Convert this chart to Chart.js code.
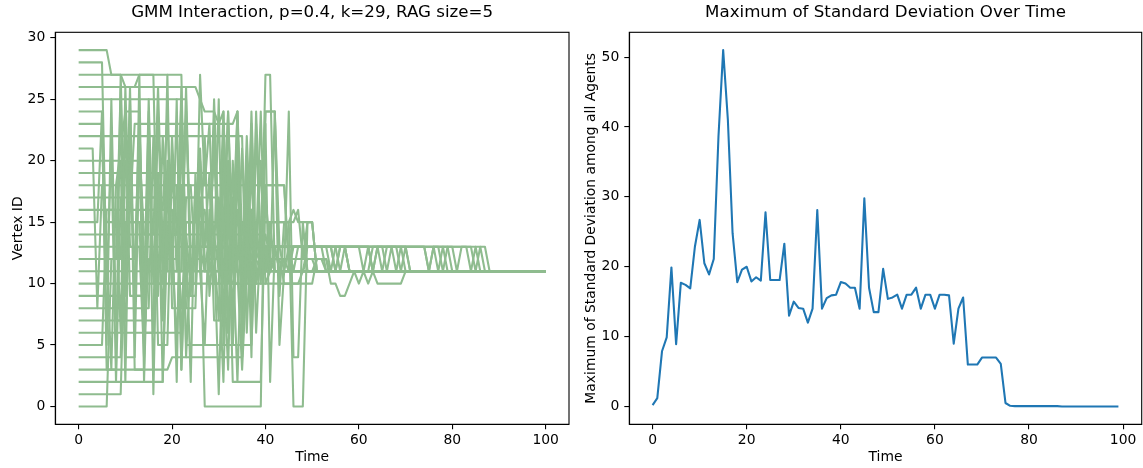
<!DOCTYPE html>
<html>
<head>
<meta charset="utf-8">
<script src="https://cdn.jsdelivr.net/npm/chart.js@4/dist/chart.umd.min.js"></script>
<style>
  html, body { margin: 0; padding: 0; background: #fff; overflow: hidden; }
  #wrap { position: relative; width: 1143px; height: 468px; }
  canvas { position: absolute; top: 0; }
</style>
</head>
<body>
<div id="wrap">
  <canvas id="left" width="575" height="468" style="left:0"></canvas>
  <canvas id="right" width="568" height="468" style="left:575px"></canvas>
</div>
<script>
// Trayectorias de los 30 agentes: pares [tiempo, vértice] donde cambia el valor
const agentPaths = [
  [[0,0],[6,0],[7,12],[9,12],[10,23],[11,9],[14,9],[15,17],[17,17],[18,11],[21,11],[22,15],[26,15],[27,0],[39,0],[40,24],[42,24],[43,13],[44,11],[100,11]],
  [[0,1],[9,1],[10,15],[13,15],[14,5],[15,12],[18,12],[19,19],[20,10],[23,10],[24,13],[28,13],[29,21],[30,11],[33,11],[34,24],[35,14],[37,14],[38,13],[40,13],[41,11],[100,11]],
  [[0,2],[18,2],[19,18],[20,11],[25,11],[26,20],[27,11],[30,11],[31,2],[32,17],[33,2],[39,2],[40,17],[41,13],[45,13],[46,11],[100,11]],
  [[0,3],[19,3],[20,4],[35,4],[36,14],[37,11],[39,11],[40,27],[41,27],[42,11],[44,11],[45,24],[46,4],[47,4],[48,15],[49,11],[100,11]],
  [[0,4],[9,4],[10,20],[13,20],[14,7],[16,7],[17,24],[18,12],[21,12],[22,18],[24,18],[25,11],[30,11],[31,16],[32,6],[33,20],[34,12],[36,12],[37,19],[38,11],[40,11],[41,15],[42,11],[100,11]],
  [[0,5],[5,5],[6,16],[8,16],[9,6],[10,26],[11,13],[13,13],[14,4],[15,19],[17,19],[18,13],[20,13],[21,5],[22,18],[23,5],[37,5],[38,15],[39,10],[40,18],[44,18],[45,11],[50,11],[51,12],[53,12],[54,11],[100,11]],
  [[0,6],[22,6],[23,17],[25,17],[26,12],[28,12],[29,25],[30,14],[32,14],[33,19],[34,11],[35,11],[36,22],[37,13],[38,13],[39,24],[40,11],[41,11],[42,24],[43,9],[44,15],[46,15],[47,16],[48,12],[49,15],[50,15],[51,11],[100,11]],
  [[0,7],[12,7],[13,27],[14,2],[15,16],[18,16],[19,24],[20,10],[24,10],[25,16],[27,16],[28,11],[30,11],[31,19],[32,12],[33,11],[100,11]],
  [[0,8],[15,8],[16,22],[17,5],[19,5],[20,20],[21,11],[22,11],[23,24],[24,13],[30,13],[31,24],[32,10],[34,10],[35,13],[36,13],[37,21],[38,6],[39,14],[40,11],[48,11],[49,13],[54,13],[55,11],[56,13],[57,13],[58,11],[100,11]],
  [[0,9],[10,9],[11,25],[12,3],[14,3],[15,22],[16,10],[18,10],[19,27],[20,8],[22,8],[23,13],[27,13],[28,19],[29,7],[31,7],[32,11],[36,11],[37,16],[38,12],[39,13],[62,13],[63,11],[64,13],[65,11],[66,13],[70,13],[71,11],[100,11]],
  [[0,10],[20,10],[21,25],[22,3],[23,14],[24,10],[30,10],[31,22],[32,11],[33,10],[50,10],[51,12],[53,12],[54,10],[55,10],[56,9],[57,9],[58,10],[59,11],[60,10],[61,11],[62,10],[63,11],[64,10],[69,10],[70,11],[100,11]],
  [[0,11],[100,11]],
  [[0,12],[8,12],[9,26],[10,4],[12,4],[13,21],[14,14],[16,14],[17,26],[18,13],[19,18],[21,18],[22,3],[23,15],[25,15],[26,21],[27,12],[29,12],[30,25],[31,5],[33,5],[34,16],[35,12],[36,13],[53,13],[54,11],[55,13],[57,13],[58,11],[62,11],[63,13],[74,13],[75,11],[76,13],[77,11],[78,13],[79,11],[100,11]],
  [[0,13],[62,13],[63,11],[64,13],[80,13],[81,11],[82,13],[87,13],[88,11],[100,11]],
  [[0,14],[39,14],[40,24],[42,24],[43,5],[44,11],[45,13],[52,13],[53,11],[100,11]],
  [[0,15],[4,15],[5,24],[6,3],[8,3],[9,27],[10,12],[12,12],[13,23],[14,11],[16,11],[17,19],[18,2],[19,14],[21,14],[22,22],[23,9],[25,9],[26,17],[27,11],[28,11],[29,13],[68,13],[69,11],[70,13],[71,11],[100,11]],
  [[0,16],[20,16],[21,2],[22,23],[23,10],[25,10],[26,27],[27,18],[28,18],[29,13],[30,1],[31,15],[32,24],[33,13],[34,2],[35,15],[45,15],[46,0],[48,0],[49,15],[50,15],[51,11],[100,11]],
  [[0,17],[30,17],[31,7],[32,20],[33,14],[34,24],[35,4],[36,16],[37,12],[38,12],[39,20],[40,10],[41,11],[42,13],[43,11],[100,11]],
  [[0,18],[44,18],[45,12],[46,13],[48,13],[49,11],[100,11]],
  [[0,19],[32,19],[33,5],[34,22],[35,8],[36,18],[37,4],[38,23],[39,11],[40,23],[41,2],[42,13],[43,11],[44,12],[45,11],[100,11]],
  [[0,20],[9,20],[10,2],[11,22],[12,9],[14,9],[15,25],[16,11],[19,11],[20,22],[21,14],[23,14],[24,2],[25,19],[26,11],[28,11],[29,23],[30,13],[32,13],[33,8],[34,19],[35,10],[36,10],[37,24],[38,12],[39,11],[100,11]],
  [[0,21],[3,21],[4,8],[5,18],[6,15],[45,15],[46,16],[47,15],[50,15],[51,11],[100,11]],
  [[0,22],[35,22],[36,6],[37,16],[38,10],[39,12],[40,14],[41,12],[43,12],[44,10],[47,10],[48,11],[49,12],[52,12],[53,11],[100,11]],
  [[0,23],[5,23],[6,5],[7,25],[8,7],[10,7],[11,16],[12,23],[33,23],[34,24],[35,10],[36,19],[37,7],[38,15],[39,11],[40,11],[41,13],[55,13],[56,11],[57,13],[58,11],[100,11]],
  [[0,24],[5,24],[6,12],[7,3],[8,18],[10,24],[13,24],[14,6],[16,6],[17,17],[18,7],[19,20],[20,11],[22,11],[23,26],[24,11],[26,11],[27,5],[28,16],[29,10],[31,10],[32,24],[33,11],[34,11],[35,21],[36,12],[37,13],[60,13],[61,11],[62,13],[63,11],[100,11]],
  [[0,25],[23,25],[24,9],[25,18],[27,18],[28,23],[29,12],[31,12],[32,3],[33,17],[34,11],[35,11],[36,20],[37,9],[38,24],[39,13],[40,13],[41,11],[42,12],[50,12],[51,11],[100,11]],
  [[0,26],[25,26],[26,25],[27,24],[29,24],[30,23],[31,24],[32,11],[33,13],[34,20],[35,6],[36,14],[37,11],[38,13],[74,13],[75,11],[76,13],[79,13],[80,11],[100,11]],
  [[0,27],[22,27],[23,8],[25,8],[26,20],[27,13],[29,13],[30,7],[31,21],[32,11],[34,11],[35,3],[36,11],[37,23],[38,10],[39,13],[40,11],[41,12],[42,11],[45,11],[46,13],[84,13],[85,11],[86,13],[87,11],[100,11]],
  [[0,28],[5,28],[6,10],[7,21],[8,2],[9,17],[10,11],[11,26],[12,7],[14,7],[15,24],[16,1],[17,19],[19,19],[20,12],[21,12],[22,26],[23,4],[24,12],[26,12],[27,22],[28,9],[29,14],[30,11],[31,20],[32,6],[33,12],[34,13],[45,13],[46,11],[47,13],[54,13],[55,11],[56,13],[65,13],[66,11],[67,13],[68,11],[69,13],[70,11],[100,11]],
  [[0,29],[6,29],[7,27],[9,27],[10,26],[12,26],[13,27],[16,27],[17,9],[18,22],[19,14],[21,14],[22,25],[23,13],[26,13],[27,11],[28,14],[29,22],[30,12],[31,13],[35,13],[36,11],[37,13],[77,13],[78,11],[79,13],[83,13],[84,11],[85,13],[86,11],[100,11]]
];

// Máximo de la desviación estándar, un valor por paso (0..99)
const maxStdDev = [
  0.2, 1.2, 7.9, 9.9, 19.9, 8.9, 17.7, 17.4, 16.9, 22.9,
  26.7, 20.5, 18.9, 21.1, 38.6, 51.0, 41.0, 24.8, 17.8, 19.6,
  20.0, 17.9, 18.5, 18.0, 27.8, 18.1, 18.1, 18.1, 23.3, 13.0,
  15.0, 14.1, 14.0, 12.0, 14.0, 28.1, 14.0, 15.5, 15.9, 16.0,
  17.8, 17.6, 17.0, 17.0, 14.0, 29.8, 17.0, 13.5, 13.5, 19.7,
  15.4, 15.6, 16.0, 14.0, 16.0, 16.0, 17.0, 14.0, 16.0, 16.0,
  14.0, 16.0, 16.0, 15.9, 9.0, 14.0, 15.6, 6.0, 6.0, 6.0,
  7.0, 7.0, 7.0, 7.0, 6.1, 0.5, 0.1, 0.05, 0.05, 0.05,
  0.05, 0.05, 0.05, 0.05, 0.05, 0.05, 0.05, 0, 0, 0,
  0, 0, 0, 0, 0, 0, 0, 0, 0, 0
];

const leftXTicks = [0, 20, 40, 60, 80, 100];
const leftYTicks = [0, 5, 10, 15, 20, 25, 30];
const rightXTicks = [0, 20, 40, 60, 80, 100];
const rightYTicks = [0, 10, 20, 30, 40, 50];

const FONT = { family: 'DejaVu Sans', size: 13.9 };
const TITLE_FONT = { family: 'DejaVu Sans', size: 16.67, weight: 'normal' };

// Marco completo alrededor del área del gráfico (estilo matplotlib)
const framePlugin = {
  id: 'frame',
  afterDraw(chart) {
    const { ctx, chartArea: a } = chart;
    ctx.save();
    ctx.strokeStyle = '#000';
    ctx.lineWidth = 1.1;
    ctx.strokeRect(a.left, a.top, a.right - a.left, a.bottom - a.top);
    ctx.restore();
  }
};

function makeScale(min, max, tickValues, label, isX, boxSize, titlePad) {
  return {
    type: 'linear',
    min: min,
    max: max,
    afterBuildTicks: scale => { scale.ticks = tickValues.map(v => ({ value: v })); },
    afterFit: scale => {
      if (isX) scale.height = boxSize;
      else scale.width = boxSize;
    },
    grid: { drawOnChartArea: false, drawTicks: true, tickLength: 5, color: '#000', lineWidth: 1.1 },
    border: { display: true, color: '#000', width: 1.1 },
    ticks: { color: '#000', font: FONT, padding: isX ? 3 : 5, maxRotation: 0, autoSkip: false },
    title: { display: true, text: label, color: '#000', font: FONT, padding: titlePad }
  };
}

function commonOptions(title, padRight) {
  return {
    responsive: false,
    animation: false,
    devicePixelRatio: 1,
    layout: { padding: { left: 0, right: padRight, top: 0, bottom: 0 } },
    plugins: {
      legend: { display: false },
      tooltip: { enabled: false },
      title: {
        display: true,
        text: title,
        color: '#000',
        font: TITLE_FONT,
        fullSize: false,
        padding: { top: 3, bottom: 9.3 }
      }
    }
  };
}

// Gráfico izquierdo: trayectorias de vértices
const leftDatasets = agentPaths.map(path => ({
  data: path.map(p => ({ x: p[0], y: p[1] })),
  borderColor: '#8fbc8f',
  borderWidth: 2.08,
  pointRadius: 0,
  tension: 0,
  fill: false,
  borderJoinStyle: 'round'
}));

const leftOpts = commonOptions('GMM Interaction, p=0.4, k=29, RAG size=5', 6);
leftOpts.scales = {
  x: makeScale(-5, 105, leftXTicks, 'Time', true, 43.7, { top: 0, bottom: 2.7 }),
  y: makeScale(-1.45, 30.45, leftYTicks, 'Vertex ID', false, 55.3, { top: 9.7, bottom: 0 })
};

new Chart(document.getElementById('left'), {
  type: 'line',
  data: { datasets: leftDatasets },
  options: leftOpts,
  plugins: [framePlugin]
});

// Gráfico derecho: máximo de la desviación estándar
const rightOpts = commonOptions('Maximum of Standard Deviation Over Time', 1.3);
rightOpts.scales = {
  x: makeScale(-4.95, 103.95, rightXTicks, 'Time', true, 43.7, { top: 0, bottom: 2.7 }),
  y: makeScale(-2.55, 53.55, rightYTicks, 'Maximum of Standard Deviation among all Agents', false, 54.3, { top: 7.7, bottom: 0 })
};

new Chart(document.getElementById('right'), {
  type: 'line',
  data: {
    datasets: [{
      data: maxStdDev.map((v, i) => ({ x: i, y: v })),
      borderColor: '#1f77b4',
      borderWidth: 2.08,
      pointRadius: 0,
      tension: 0,
      fill: false,
      borderJoinStyle: 'round'
    }]
  },
  options: rightOpts,
  plugins: [framePlugin]
});
</script>
</body>
</html>
